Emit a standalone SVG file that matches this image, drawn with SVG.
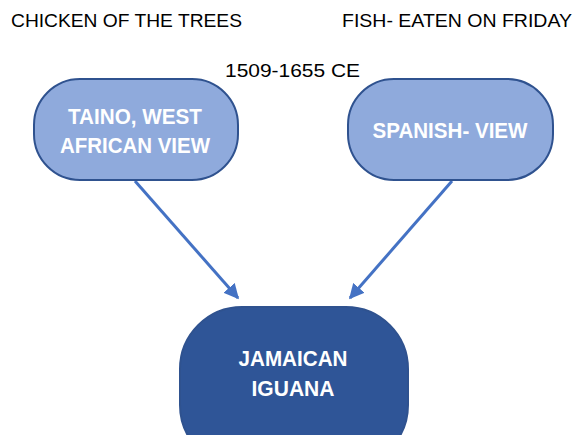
<svg xmlns="http://www.w3.org/2000/svg" width="576" height="435" viewBox="0 0 576 435">
  <defs>
    <style>
      .cap { font-family: "Liberation Sans", Arial, sans-serif; font-size: 19px; fill: #000; }
      .lbl { font-family: "Liberation Sans", Arial, sans-serif; font-size: 22px; font-weight: bold; fill: #fff; text-anchor: middle; }
      .light { fill: #8FAADC; stroke: #2F528F; stroke-width: 2; }
      .dark { fill: #2F5597; stroke: #2F528F; stroke-width: 2; }
      .edge { stroke: #4472C4; stroke-width: 3; fill: none; }
    </style>
    <marker id="arrow" viewBox="0 0 10 10" refX="9" refY="5" markerWidth="5" markerHeight="5" orient="auto" markerUnits="strokeWidth">
      <path d="M0,0 L10,5 L0,10 Z" fill="#4472C4"/>
    </marker>
  </defs>
  <rect width="576" height="435" fill="#fff"/>

  <!-- headings -->
  <text class="cap" x="11" y="27" textLength="231" lengthAdjust="spacingAndGlyphs">CHICKEN OF THE TREES</text>
  <text class="cap" x="342" y="27" textLength="230" lengthAdjust="spacingAndGlyphs">FISH- EATEN ON FRIDAY</text>
  <text class="cap" x="225" y="77" font-size="20" textLength="135" lengthAdjust="spacingAndGlyphs">1509-1655 CE</text>

  <!-- connectors -->
  <g id="connectors">
    <line class="edge" x1="135" y1="181" x2="238" y2="298" marker-end="url(#arrow)"/>
    <line class="edge" x1="452" y1="181" x2="350" y2="298" marker-end="url(#arrow)"/>
  </g>

  <!-- nodes -->
  <g id="taino">
    <rect class="light" x="34" y="79" width="204" height="101" rx="46" ry="46"/>
    <text class="lbl" x="135" y="124" textLength="134" lengthAdjust="spacingAndGlyphs">TAINO, WEST</text>
    <text class="lbl" x="135" y="153" textLength="150" lengthAdjust="spacingAndGlyphs">AFRICAN VIEW</text>
  </g>
  <g id="spanish">
    <rect class="light" x="348" y="79" width="205" height="101" rx="46" ry="46"/>
    <text class="lbl" x="450" y="138" textLength="155" lengthAdjust="spacingAndGlyphs">SPANISH- VIEW</text>
  </g>
  <g id="iguana">
    <rect class="dark" x="180" y="307" width="228" height="160" rx="62" ry="62"/>
    <text class="lbl" x="293" y="366" textLength="109" lengthAdjust="spacingAndGlyphs">JAMAICAN</text>
    <text class="lbl" x="293" y="396" textLength="83" lengthAdjust="spacingAndGlyphs">IGUANA</text>
  </g>
</svg>
